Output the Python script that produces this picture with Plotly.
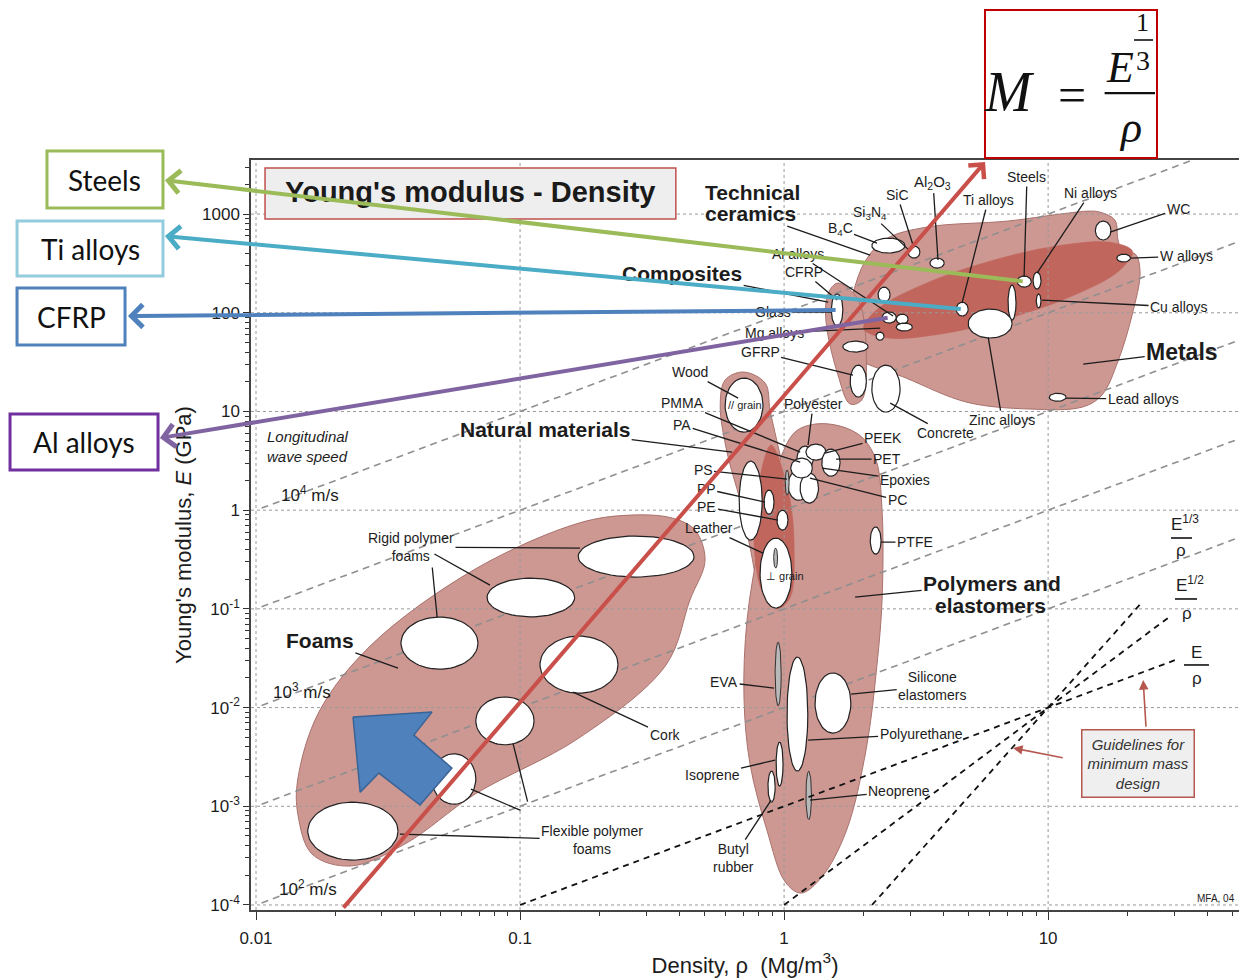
import numpy as np
import plotly.graph_objects as go

# ---------------------------------------------------------------------------
# Material property bubbles: (name, rho_min, rho_max, E_min, E_max)
# density in Mg/m^3, Young's modulus in GPa
# ---------------------------------------------------------------------------
foam_bubbles = [
    ("Rigid polymer foam (dense)", 0.166, 0.456, 0.21, 0.547),
    ("Rigid polymer foam (medium)", 0.075, 0.161, 0.083, 0.205),
    ("Rigid polymer foam (light)", 0.0354, 0.0693, 0.0245, 0.0826),
    ("Cork", 0.119, 0.235, 0.014, 0.053),
    ("Flexible polymer foam (dense)", 0.068, 0.113, 0.0042, 0.0128),
    ("Flexible polymer foam (medium)", 0.0464, 0.068, 0.00105, 0.0034),
    ("Flexible polymer foam (light)", 0.0157, 0.0345, 0.000285, 0.0011),
]

hard_bubbles = [
    ("B4C", 2.15, 2.87, 403, 571),
    ("SiC", 2.95, 3.27, 358, 474),
    ("Al2O3", 3.57, 4.04, 284, 358),
    ("Si3N4", 2.27, 2.52, 128, 182),
    ("CFRP", 1.51, 1.67, 73.3, 155),
    ("Al alloys", 2.35, 2.66, 78.7, 102),
    ("Glass", 2.66, 2.95, 76.7, 97),
    ("Mg alloys", 2.66, 3.06, 65.3, 78.7),
    ("Stone", 2.23, 2.39, 52.8, 63.7),
    ("GFRP", 1.67, 2.08, 40.0, 51.6),
    ("Brick", 1.78, 2.05, 14.0, 29.5),
    ("Concrete", 2.15, 2.75, 9.86, 29.5),
    ("Ti alloys", 4.49, 4.98, 92.7, 128),
    ("Steels", 7.64, 8.63, 182, 236),
    ("Ni alloys", 8.77, 9.40, 174, 258),
    ("Cast irons", 7.05, 7.56, 84.3, 191),
    ("Cu alloys", 9.02, 9.40, 112, 155),
    ("Zinc alloys", 4.98, 7.31, 55.5, 109),
    ("WC", 15.1, 17.3, 546, 850),
    ("W alloys", 18.2, 20.5, 327, 393),
    ("Lead alloys", 10.1, 11.7, 12.7, 15.3),
]

soft_bubbles = [
    ("Wood, // grain", 0.598, 0.832, 6.18, 21.8),
    ("PS", 0.676, 0.826, 0.498, 3.14),
    ("PP", 0.84, 0.916, 0.911, 1.6),
    ("PE", 0.94, 1.035, 0.628, 1.0),
    ("Wood, T grain", 0.811, 1.07, 0.102, 0.521),
    ("PMMA", 1.12, 1.29, 2.55, 4.46),
    ("Polyester", 1.21, 1.44, 3.22, 4.67),
    ("PEEK", 1.39, 1.63, 2.21, 4.16),
    ("PA", 1.035, 1.25, 1.26, 2.55),
    ("PC", 1.15, 1.35, 1.18, 2.38),
    ("PET", 1.06, 1.28, 2.12, 3.37),
    ("PTFE", 2.12, 2.33, 0.359, 0.675),
    ("Polyurethane", 1.026, 1.23, 0.00227, 0.0325),
    ("Silicone elastomers", 1.31, 1.79, 0.00552, 0.0224),
    ("Isoprene", 0.933, 0.991, 0.0016, 0.00447),
    ("Butyl rubber", 0.869, 0.925, 0.0011, 0.00227),
]

# narrow grey bubbles
sliver_bubbles = [
    ("EVA", 0.925, 0.975, 0.0104, 0.0461),
    ("Neoprene", 1.21, 1.27, 0.00073, 0.00227),
    ("Epoxies", 1.01, 1.045, 1.42, 2.55),
    ("Leather", 0.913, 0.945, 0.259, 0.413),
]

# ---------------------------------------------------------------------------
# Family envelopes: outline points (rho, E)
# ---------------------------------------------------------------------------
foams_envelope = [(0.0144, 0.00189), (0.0173, 0.009), (0.0273, 0.043), (0.0676, 0.253),
                  (0.167, 0.74), (0.261, 0.891), (0.377, 0.832), (0.46, 0.628),
                  (0.502, 0.312), (0.44, 0.123), (0.357, 0.027), (0.167, 0.00491),
                  (0.0676, 0.00133), (0.0366, 0.000414), (0.0227, 0.000248),
                  (0.0163, 0.000328), (0.0144, 0.000834)]

natural_envelope = [(0.70, 25.1), (0.598, 20.8), (0.573, 11.6), (0.609, 3.79), (0.681, 1.26),
                    (0.743, 0.422), (0.811, 0.155), (0.925, 0.0973), (1.054, 0.129),
                    (1.092, 0.394), (1.054, 1.26), (0.966, 3.61), (0.885, 10.3), (0.848, 19.4)]

natural_core = [(0.893, 4.57), (0.79, 1.49), (0.769, 0.464), (0.826, 0.148), (0.933, 0.0995),
                (1.054, 0.13), (1.092, 0.394), (1.045, 1.42)]

polymer_envelope = [(1.31, 7.45), (1.63, 7.11), (1.97, 5.51), (2.23, 3.22), (2.35, 1.0),
                    (2.35, 0.123), (2.25, 0.0276), (2.05, 0.00389), (1.72, 0.000561),
                    (1.39, 0.000192), (1.16, 0.000132), (1.01, 0.000171), (0.863, 0.000561),
                    (0.743, 0.00268), (0.705, 0.0125), (0.724, 0.0771), (0.811, 0.498),
                    (0.948, 2.86), (1.10, 6.18)]

metals_envelope = [(2.03, 334), (2.43, 559), (3.48, 739), (7.05, 850), (11.1, 1000),
                   (14.4, 1072), (15.7, 1047), (17.9, 869), (18.4, 546), (19.05, 431),
                   (21.4, 393), (22.3, 258), (20.8, 94.8), (18.4, 32.4), (16.0, 14.7),
                   (13.5, 11.1), (8.47, 10.6), (4.93, 12.4), (2.90, 21.8), (1.82, 37.2),
                   (1.70, 60.8), (1.82, 154)]

metals_core = [(20.9, 418), (18.5, 264), (12.4, 149), (6.95, 86.7), (3.83, 60.4),
               (2.43, 55.7), (2.0, 69.0), (2.26, 109), (3.37, 194), (6.01, 333),
               (10.9, 477), (17.2, 518)]

composites_envelope = [(1.60, 200), (1.91, 135), (2.05, 33.2), (1.97, 13.1), (1.78, 11.9),
                       (1.60, 23.4), (1.44, 84.3), (1.47, 158)]

# block arrow pointing up-left inside the foams field
pointer_outline = [(0.0233, 0.00802), (0.0464, 0.0090), (0.0396, 0.00526), (0.0552, 0.00244),
                   (0.0418, 0.00103), (0.0292, 0.00217), (0.0248, 0.00139)]

# ---------------------------------------------------------------------------
# Guide lines
# ---------------------------------------------------------------------------
wave_speed_ratios = [100, 10, 1, 0.1, 0.01]   # E/rho, GPa per Mg/m^3
wave_rho_span = [0.0105, 60.0]

guide_lines = [  # (rho pair, E pair)
    ([0.1, 31.0], [1e-4, 0.031]),      # E / rho
    ([1.0, 28.5], [1e-4, 0.0812]),     # E^1/2 / rho
    ([2.154, 22.5], [1e-4, 0.114]),    # E^1/3 / rho
]

index_line = ([0.0212, 5.77], [9.08e-5, 3365])   # M = E^1/3 / rho selection line

x_ticks = [0.01, 0.1, 1, 10]
x_ticktext = ["0.01", "0.1", "1", "10"]
y_ticks = [1e-4, 1e-3, 1e-2, 1e-1, 1, 10, 100, 1000]
y_ticktext = ["10<sup>-4</sup>", "10<sup>-3</sup>", "10<sup>-2</sup>", "10<sup>-1</sup>",
              "1", "10", "100", "1000"]

X_RANGE = [-2.019, 1.723]
Y_RANGE = [-4.051, 3.548]

PINK = "#cd9792"
PINK_EDGE = "#a9726d"
PINK_DARK = "#c0665d"
FONT = "Liberation Sans, Arial, sans-serif"

fig = go.Figure()


def add_region(points, fill, edge=PINK_EDGE, width=1.0):
    xs = [p[0] for p in points] + [points[0][0]]
    ys = [p[1] for p in points] + [points[0][1]]
    fig.add_trace(go.Scatter(x=xs, y=ys, mode="lines", fill="toself", fillcolor=fill,
                             line=dict(color=edge, width=width, shape="spline", smoothing=1.0),
                             hoverinfo="skip"))


def ellipse_xy(r0, r1, e0, e1, n=60):
    t = np.linspace(0, 2 * np.pi, n)
    cx, hx = (np.log10(r0) + np.log10(r1)) / 2, (np.log10(r1) - np.log10(r0)) / 2
    cy, hy = (np.log10(e0) + np.log10(e1)) / 2, (np.log10(e1) - np.log10(e0)) / 2
    return 10 ** (cx + hx * np.cos(t)), 10 ** (cy + hy * np.sin(t))


# envelopes
for env in (foams_envelope, natural_envelope, polymer_envelope, metals_envelope, composites_envelope):
    add_region(env, PINK)
add_region(metals_core, PINK_DARK, edge=PINK_DARK, width=0.5)
add_region(natural_core, PINK_DARK, edge=PINK_DARK, width=0.5)

# decade grid
y_lo, y_hi = 10 ** Y_RANGE[0], 10 ** Y_RANGE[1]
x_lo, x_hi = 10 ** X_RANGE[0], 10 ** X_RANGE[1]
gx, gy = [], []
for v in x_ticks:
    gx += [v, v, None]
    gy += [y_lo, y_hi, None]
for v in y_ticks:
    gx += [x_lo, x_hi, None]
    gy += [v, v, None]
fig.add_trace(go.Scatter(x=gx, y=gy, mode="lines", hoverinfo="skip",
                         line=dict(color="#9a9a9a", width=1, dash="dot")))

# longitudinal wave speed lines
for c in wave_speed_ratios:
    fig.add_trace(go.Scatter(x=wave_rho_span, y=[c * r for r in wave_rho_span], mode="lines",
                             hoverinfo="skip",
                             line=dict(color="#8f8f8f", width=1.6, dash="7px,5px")))

# bubbles
for name, r0, r1, e0, e1 in foam_bubbles + hard_bubbles + soft_bubbles:
    ex, ey = ellipse_xy(r0, r1, e0, e1)
    fig.add_trace(go.Scatter(x=ex, y=ey, mode="lines", fill="toself", fillcolor="white",
                             line=dict(color="#222222", width=1.2), hoverinfo="skip", name=name))
for name, r0, r1, e0, e1 in sliver_bubbles:
    ex, ey = ellipse_xy(r0, r1, e0, e1)
    fig.add_trace(go.Scatter(x=ex, y=ey, mode="lines", fill="toself", fillcolor="#b9b9b9",
                             line=dict(color="#333333", width=1), hoverinfo="skip", name=name))

# minimum-mass guidelines
for rr, ee in guide_lines:
    fig.add_trace(go.Scatter(x=rr, y=ee, mode="lines", hoverinfo="skip",
                             line=dict(color="#111111", width=1.8, dash="6px,5px")))

# block arrow
px_ = [p[0] for p in pointer_outline] + [pointer_outline[0][0]]
py_ = [p[1] for p in pointer_outline] + [pointer_outline[0][1]]
fig.add_trace(go.Scatter(x=px_, y=py_, mode="lines", fill="toself", fillcolor="#4f81bd",
                         line=dict(color="#3a6396", width=1.5), hoverinfo="skip"))

annotations = []


def label(text, tx, ty, hx=None, hy=None, size=14, align="center", xanchor="center"):
    a = dict(text=text, xref="x", yref="y", font=dict(family=FONT, size=size, color="#1c1c1c"),
             align=align)
    if hx is None:
        a.update(x=tx, y=ty, showarrow=False, xanchor=xanchor, yanchor="middle")
    else:
        a.update(x=hx, y=hy, ax=tx, ay=ty, axref="x", ayref="y", showarrow=True,
                 arrowhead=0, arrowwidth=1.3, arrowcolor="#1c1c1c", standoff=0)
    annotations.append(a)


def leader(tx, ty, hx, hy):
    annotations.append(dict(text="", x=hx, y=hy, ax=tx, ay=ty, xref="x", yref="y",
                            axref="x", ayref="y", showarrow=True, arrowhead=0,
                            arrowwidth=1.3, arrowcolor="#1c1c1c"))


def paper_text(text, x, y, size, family=FONT, color="#111111"):
    annotations.append(dict(text=text, xref="paper", yref="paper", x=x, y=y,
                            xanchor="center", yanchor="middle", showarrow=False,
                            font=dict(family=family, size=size, color=color)))


# title box text
paper_text("<b>Young's modulus - Density</b>", 0.2217, 0.9573, 29, color="#1a1a1a")

B = 21
label("<b>Technical</b>", -0.121, 3.223, size=B)
label("<b>ceramics</b>", -0.129, 3.010, 0.326, 2.585, size=B)
label("<b>Composites</b>", -0.386, 2.402, 0.167, 2.108, size=B)
label("Al<sub>2</sub>O<sub>3</sub>", 0.564, 3.324, 0.583, 2.534, size=15)
label("SiC", 0.428, 3.193, 0.492, 2.656)
label("Si<sub>3</sub>N<sub>4</sub>", 0.326, 3.010, 0.477, 2.625)
label("B<sub>4</sub>C", 0.212, 2.848, 0.352, 2.706)
label("Ti alloys", 0.773, 3.142, 0.674, 2.098)
label("Steels", 0.920, 3.375, 0.909, 2.362)
label("Ni alloys", 1.159, 3.213, 0.958, 2.402)
label("WC", 1.492, 3.051, 1.235, 2.818)
label("W alloys", 1.523, 2.574, 1.311, 2.554)
label("Cu alloys", 1.496, 2.058, 0.977, 2.129)
label("<b>Metals</b>", 1.508, 1.602, 1.133, 1.480, size=23)
label("Lead alloys", 1.360, 1.126, 1.068, 1.136)
label("Zinc alloys", 0.826, 0.913, 0.773, 1.754)
label("Concrete", 0.610, 0.781, 0.402, 1.085)
label("Al alloys", 0.053, 2.595, 0.413, 1.967)
label("CFRP", 0.076, 2.412, 0.201, 2.129)
label("Glass", -0.042, 2.007, 0.178, 2.007)
label("Mg alloys", -0.038, 1.794, 0.364, 1.845)
label("GFRP", -0.091, 1.602, 0.261, 1.369)
label("Wood", -0.356, 1.399, -0.174, 1.136)
label("PMMA", -0.386, 1.085, 0.061, 0.589)
label("Polyester", 0.110, 1.075, 0.091, 0.660)
label("PA", -0.386, 0.862, 0.061, 0.487)
label("<b>Natural materials</b>", -0.905, 0.822, -0.197, 0.589, size=B)
label("PEEK", 0.375, 0.730, 0.155, 0.579)
label("PET", 0.390, 0.518, 0.197, 0.518)
label("Epoxies", 0.458, 0.305, 0.144, 0.427)
label("PC", 0.428, 0.102, 0.098, 0.325)
label("PS", -0.307, 0.406, 0.011, 0.315)
label("PP", -0.295, 0.214, -0.072, 0.082)
label("PE", -0.292, 0.031, -0.023, -0.100)
label("Leather", -0.284, -0.181, -0.080, -0.435)
label("PTFE", 0.496, -0.323, 0.367, -0.323)
label("<b>Polymers and</b>", 0.788, -0.739, 0.269, -0.880, size=B)
label("<b>elastomers</b>", 0.780, -0.961, size=B)
label("EVA", -0.227, -1.742, -0.038, -1.803)
label("Silicone<br>elastomers", 0.561, -1.782, 0.254, -1.863)
label("Polyurethane", 0.519, -2.268, 0.091, -2.329)
label("Isoprene", -0.273, -2.684, -0.034, -2.532)
label("Butyl<br>rubber", -0.193, -3.525, -0.049, -2.937)
label("Neoprene", 0.436, -2.846, 0.098, -2.937)
label("Rigid polymer<br>foams", -1.413, -0.374, -0.773, -0.384)
label("<b>Foams</b>", -1.758, -1.316, -1.462, -1.600, size=B)
label("Cork", -0.451, -2.279, -0.799, -1.843)
label("Flexible polymer<br>foams", -0.727, -3.342, -1.455, -3.282)
leader(-1.330, -0.435, -1.114, -0.759)
leader(-1.333, -0.566, -1.314, -1.083)
leader(-0.992, -3.049, -1.186, -2.826)
leader(-0.970, -2.968, -1.027, -2.360)

label("// grain", -0.148, 1.065, size=11)
label("⊥ grain", 0.004, -0.668, size=11)
label("<i>Longitudinal<br>wave speed</i>", -1.966, 0.649, size=15, align="left", xanchor="left")
label("10<sup>4</sup> m/s", -1.795, 0.163, size=17)
label("10<sup>3</sup> m/s", -1.826, -1.833, size=17)
label("10<sup>2</sup> m/s", -1.803, -3.829, size=17)
label("MFA, 04", 1.716, -3.930, size=10, xanchor="right")

label("E<sup>1/3</sup>", 1.519, -0.131, size=17)
label("ρ", 1.504, -0.404, size=17)
label("E<sup>1/2</sup>", 1.538, -0.749, size=17)
label("ρ", 1.527, -1.043, size=17)
label("E", 1.561, -1.438, size=17)
label("ρ", 1.564, -1.701, size=17)

annotations.append(dict(text="<i>Guidelines for<br>minimum mass<br>design</i>", x=1.341, y=-2.562,
                        xref="x", yref="y", showarrow=False, bgcolor="#efefef",
                        bordercolor="#b5574f", borderwidth=1.5, borderpad=5,
                        font=dict(family=FONT, size=15, color="#333333")))
for (hx, hy, tx, ty) in [(1.360, -1.721, 1.371, -2.208), (0.867, -2.410, 1.061, -2.512)]:
    annotations.append(dict(text="", x=hx, y=hy, ax=tx, ay=ty, xref="x", yref="y",
                            axref="x", ayref="y", showarrow=True, arrowhead=2,
                            arrowsize=1.2, arrowwidth=1.6, arrowcolor="#b5574f"))

# selection-line arrow (M index)
annotations.append(dict(text="", x=np.log10(index_line[0][1]), y=np.log10(index_line[1][1]),
                        ax=np.log10(index_line[0][0]), ay=np.log10(index_line[1][0]),
                        xref="x", yref="y", axref="x", ayref="y", showarrow=True,
                        arrowhead=4, arrowsize=1.0, arrowwidth=4, arrowcolor="#c9504a"))

# call-out arrows from highlighted materials to the side boxes
callouts = [  # (box edge position in log10 units, material bubble, colour)
    ((-2.345, 3.344), "Steels", "#9bbb59"),
    ((-2.345, 2.777), "Ti alloys", "#4bacc6"),
    ((-2.485, 1.967), "CFRP", "#4f81bd"),
    ((-2.364, 0.731), "Al alloys", "#8064a2"),
]
bubble_lookup = {b[0]: b for b in hard_bubbles}
for (hx, hy), mat, col in callouts:
    _, r0, r1, e0, e1 = bubble_lookup[mat]
    annotations.append(dict(text="", x=hx, y=hy,
                            ax=(np.log10(r0) + np.log10(r1)) / 2,
                            ay=(np.log10(e0) + np.log10(e1)) / 2,
                            xref="x", yref="y", axref="x", ayref="y", showarrow=True,
                            arrowhead=4, arrowsize=1.1, arrowwidth=4, arrowcolor=col))

# side boxes
shapes = []
side_boxes = [("Steels", -0.2065, -0.0891, 0.936, 1.012, "#9bbb59"),
              ("Ti alloys", -0.2368, -0.0891, 0.8453, 0.9187, "#93cddd"),
              ("CFRP", -0.2368, -0.1275, 0.7533, 0.8293, "#4f81bd"),
              ("Al alloys", -0.2439, -0.0941, 0.5867, 0.6613, "#7030a0")]
for text, x0, x1, y0, y1, col in side_boxes:
    shapes.append(dict(type="rect", xref="paper", yref="paper", x0=x0, x1=x1, y0=y0, y1=y1,
                       line=dict(color=col, width=3), fillcolor="white", layer="above"))
    paper_text(text, (x0 + x1) / 2, (y0 + y1) / 2, 28, family="Lato, Open Sans, sans-serif")

# title box
shapes.append(dict(type="rect", xref="paper", yref="paper", x0=0.0142, x1=0.430, y0=0.9213,
                   y1=0.9893, line=dict(color="#c0504d", width=1.5), fillcolor="#eeeeee",
                   layer="above"))
# fraction bars of the guideline labels
for x0, x1, y in [(0.9312, 0.9524, 0.496), (0.9352, 0.9575, 0.4147), (0.9443, 0.9696, 0.3267)]:
    shapes.append(dict(type="line", xref="paper", yref="paper", x0=x0, x1=x1, y0=y, y1=y,
                       line=dict(color="#111111", width=1.6), layer="above"))

# formula box  M = E^(1/3) / rho
shapes.append(dict(type="rect", xref="paper", yref="paper", x0=0.7429, x1=0.9170, y0=1.0027,
                   y1=1.2, line=dict(color="#c00000", width=2), fillcolor="white", layer="above"))
shapes.append(dict(type="line", xref="paper", yref="paper", x0=0.864, x1=0.915, y0=1.0893,
                   y1=1.0893, line=dict(color="#111111", width=2.2), layer="above"))
shapes.append(dict(type="line", xref="paper", yref="paper", x0=0.8937, x1=0.9130, y0=1.16,
                   y1=1.16, line=dict(color="#111111", width=1.6), layer="above"))
SERIF = "Liberation Serif, DejaVu Serif, serif"
for text, x, y, size in [("<i>M</i>", 0.768, 1.0907, 56), ("=", 0.831, 1.0867, 50),
                         ("<i>E</i>", 0.8796, 1.1227, 44), ("1", 0.9028, 1.184, 26),
                         ("3", 0.9028, 1.1333, 28), ("<i>ρ</i>", 0.8897, 1.0427, 44)]:
    paper_text(text, x, y, size, family=SERIF)

minor_x = [k * 10.0 ** d for d in range(-2, 2) for k in range(2, 10)]
minor_y = [k * 10.0 ** d for d in range(-4, 4) for k in range(2, 10)]

fig.update_layout(
    width=1239, height=980,
    margin=dict(l=251, r=0, t=160, b=70),
    paper_bgcolor="white", plot_bgcolor="white",
    showlegend=False,
    font=dict(family=FONT, color="#1c1c1c"),
    annotations=annotations,
    shapes=shapes,
    xaxis=dict(type="log", range=X_RANGE, tickvals=x_ticks, ticktext=x_ticktext,
               ticks="outside", ticklen=8, tickwidth=1.2, tickcolor="#333",
               ticklabelstandoff=4,
               showline=True, linecolor="#444", linewidth=1.5, mirror=True,
               showgrid=False, zeroline=False, tickfont=dict(size=17),
               minor=dict(tickvals=minor_x, ticks="outside", ticklen=4, tickcolor="#333",
                          showgrid=False),
               title=dict(text="Density, ρ  (Mg/m<sup>3</sup>)", font=dict(size=22), standoff=10)),
    yaxis=dict(type="log", range=Y_RANGE, tickvals=y_ticks, ticktext=y_ticktext,
               ticks="outside", ticklen=6, tickwidth=1.2, tickcolor="#333",
               showline=True, linecolor="#444", linewidth=1.5,
               showgrid=False, zeroline=False, tickfont=dict(size=17),
               minor=dict(tickvals=minor_y, ticks="outside", ticklen=4, tickcolor="#333",
                          showgrid=False),
               title=dict(text="Young's modulus, <i>E</i> (GPa)", font=dict(size=22), standoff=4)),
)

fig.write_html("out.html")
